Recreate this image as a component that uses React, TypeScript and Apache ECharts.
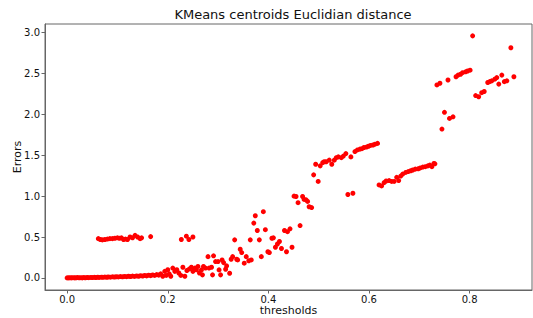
import React, { useEffect, useRef } from "react";
import * as echarts from "echarts";

const titleText = "KMeans centroids Euclidian distance";
const xName = "thresholds";
const yName = "Errors";
const xTicks = [0.0, 0.2, 0.4, 0.6, 0.8];
const yTicks = [0.0, 0.5, 1.0, 1.5, 2.0, 2.5, 3.0];

const baseline: number[][] = [
  [0.0, 0.0], [0.003, 0.0], [0.006, 0.002], [0.009, 0.0], [0.012, 0.003], [0.015, 0.0], [0.018, 0.002],
  [0.021, 0.004], [0.024, 0.001], [0.027, 0.003], [0.03, 0.0], [0.033, 0.004], [0.036, 0.002], [0.04, 0.005],
  [0.043, 0.003], [0.047, 0.006], [0.05, 0.004], [0.054, 0.007], [0.057, 0.005], [0.061, 0.008], [0.064, 0.006],
  [0.068, 0.009], [0.071, 0.007], [0.075, 0.01], [0.079, 0.008], [0.082, 0.012], [0.086, 0.009], [0.09, 0.013],
  [0.094, 0.011], [0.098, 0.014], [0.102, 0.012], [0.106, 0.016], [0.11, 0.013], [0.114, 0.018], [0.118, 0.015],
  [0.122, 0.02], [0.126, 0.016], [0.13, 0.022], [0.134, 0.018], [0.138, 0.024], [0.142, 0.02], [0.146, 0.027],
  [0.15, 0.022], [0.154, 0.03], [0.158, 0.025], [0.162, 0.033], [0.166, 0.028], [0.17, 0.036], [0.174, 0.03],
  [0.178, 0.04], [0.182, 0.034],
];

const halfRow: number[][] = [
  [0.062, 0.48], [0.066, 0.47], [0.07, 0.465], [0.075, 0.47], [0.08, 0.475], [0.085, 0.48], [0.09, 0.48],
  [0.095, 0.485], [0.1, 0.49], [0.104, 0.485], [0.108, 0.49], [0.112, 0.47], [0.116, 0.475], [0.12, 0.47],
  [0.125, 0.5], [0.13, 0.49], [0.135, 0.52], [0.14, 0.5], [0.145, 0.48], [0.148, 0.49], [0.166, 0.505],
  [0.227, 0.47], [0.237, 0.51], [0.242, 0.47], [0.25, 0.5],
];

const rising: number[][] = [
  [0.186, 0.05], [0.19, 0.02], [0.194, 0.08], [0.197, 0.03], [0.2, 0.1], [0.203, 0.05], [0.206, 0.02],
  [0.21, 0.12], [0.214, 0.08], [0.218, 0.1], [0.222, 0.06], [0.226, 0.03], [0.23, 0.13], [0.234, 0.02],
  [0.238, 0.09], [0.243, 0.11], [0.247, 0.13], [0.25, 0.08], [0.254, 0.12], [0.257, 0.1], [0.26, 0.14],
  [0.263, 0.06], [0.267, 0.098], [0.269, 0.037], [0.271, 0.14], [0.275, 0.12], [0.28, 0.26], [0.282, 0.12],
  [0.287, 0.13], [0.289, 0.037], [0.291, 0.27], [0.295, 0.2], [0.3, 0.2], [0.302, 0.098], [0.305, 0.037],
  [0.308, 0.22], [0.311, 0.187], [0.315, 0.106], [0.317, 0.147], [0.323, 0.057], [0.326, 0.228], [0.329, 0.26],
  [0.333, 0.465], [0.337, 0.228], [0.339, 0.22], [0.344, 0.35], [0.347, 0.31], [0.352, 0.18], [0.356, 0.26],
  [0.361, 0.21], [0.364, 0.465], [0.366, 0.22], [0.371, 0.67], [0.374, 0.76], [0.378, 0.58], [0.382, 0.465],
  [0.386, 0.26], [0.39, 0.81], [0.394, 0.59], [0.399, 0.32], [0.402, 0.31], [0.407, 0.485], [0.41, 0.49],
  [0.414, 0.375], [0.418, 0.415], [0.422, 0.445], [0.426, 0.36], [0.432, 0.58], [0.436, 0.32], [0.438, 0.565],
  [0.443, 0.6], [0.447, 0.375], [0.463, 0.64],
];

const jumpGroup: number[][] = [
  [0.451, 1.0], [0.455, 0.995], [0.459, 0.92], [0.468, 0.995], [0.471, 0.96], [0.475, 0.955], [0.478, 0.935],
  [0.481, 0.87], [0.486, 0.86], [0.49, 1.26], [0.494, 1.39], [0.499, 1.18], [0.503, 1.37], [0.508, 1.41],
  [0.511, 1.42], [0.515, 1.42], [0.521, 1.44], [0.526, 1.39], [0.531, 1.44], [0.535, 1.47], [0.539, 1.48],
  [0.545, 1.47], [0.549, 1.49], [0.554, 1.52], [0.558, 1.02], [0.564, 1.48], [0.568, 1.035],
];

const upperBand: number[][] = [
  [0.572, 1.545], [0.577, 1.565], [0.582, 1.575], [0.586, 1.58], [0.59, 1.595], [0.595, 1.6], [0.599, 1.61],
  [0.603, 1.62], [0.608, 1.625], [0.612, 1.635], [0.617, 1.645],
];

const lowerBand: number[][] = [
  [0.62, 1.137], [0.625, 1.125], [0.63, 1.165], [0.634, 1.185], [0.64, 1.19], [0.645, 1.18], [0.65, 1.18],
  [0.655, 1.23], [0.659, 1.19], [0.663, 1.245], [0.667, 1.27], [0.673, 1.29], [0.678, 1.3], [0.683, 1.31],
  [0.687, 1.32], [0.692, 1.33], [0.698, 1.335], [0.702, 1.345], [0.707, 1.355], [0.712, 1.36], [0.717, 1.37],
  [0.721, 1.38], [0.725, 1.36], [0.729, 1.4], [0.731, 1.395],
];

const topCluster: number[][] = [
  [0.735, 2.36], [0.741, 2.38], [0.745, 1.82], [0.75, 2.025], [0.757, 2.42], [0.76, 1.95], [0.767, 1.97],
  [0.773, 2.46], [0.777, 2.48], [0.782, 2.49], [0.786, 2.51], [0.792, 2.52], [0.796, 2.53], [0.801, 2.54],
  [0.806, 2.96], [0.812, 2.23], [0.818, 2.215], [0.824, 2.265], [0.829, 2.28], [0.836, 2.39], [0.84, 2.4],
  [0.844, 2.41], [0.85, 2.43], [0.854, 2.45], [0.858, 2.37], [0.864, 2.48], [0.869, 2.4], [0.874, 2.41],
  [0.882, 2.815], [0.888, 2.46],
];

const FONT = "DejaVu Sans";

export default function App() {
  const ref = useRef<HTMLDivElement>(null);
  useEffect(() => {
    if (!ref.current) return;
    const chart = echarts.init(ref.current, null, { renderer: "svg" });
    const points = [...baseline, ...halfRow, ...rising, ...jumpGroup, ...upperBand, ...lowerBand, ...topCluster];
    chart.setOption({
      animation: false,
      backgroundColor: "#ffffff",
      title: {
        text: titleText,
        left: 288,
        top: 3,
        textAlign: "center",
        textStyle: { fontFamily: FONT, fontSize: 13, fontWeight: "normal", color: "#111" },
      },
      grid: {
        left: 45,
        right: 1,
        top: 24,
        bottom: 28,
        show: true,
        borderColor: "#666",
        borderWidth: 1,
        containLabel: false,
        outerBoundsMode: "none",
      },
      xAxis: {
        type: "value",
        min: -0.044,
        max: 0.924,
        name: xName,
        nameLocation: "middle",
        nameGap: 15,
        nameMoveOverlap: false,
        nameTextStyle: { fontFamily: FONT, fontSize: 11, color: "#111" },
        splitLine: { show: false },
        axisLine: { show: true, onZero: false, lineStyle: { color: "#666" } },
        axisTick: { show: true, length: 3.5, lineStyle: { color: "#666" }, customValues: xTicks },
        axisLabel: {
          fontFamily: FONT,
          fontSize: 10,
          color: "#111",
          margin: 4,
          customValues: xTicks,
          formatter: (v: number) => v.toFixed(1),
        },
      },
      yAxis: {
        type: "value",
        min: -0.148,
        max: 3.105,
        name: yName,
        nameLocation: "middle",
        nameGap: 22,
        nameMoveOverlap: false,
        nameTextStyle: { fontFamily: FONT, fontSize: 11, color: "#111" },
        splitLine: { show: false },
        axisLine: { show: true, onZero: false, lineStyle: { color: "#666" } },
        axisTick: { show: true, length: 3.5, lineStyle: { color: "#666" }, customValues: yTicks },
        axisLabel: {
          fontFamily: FONT,
          fontSize: 10,
          color: "#111",
          margin: 5,
          customValues: yTicks,
          formatter: (v: number) => v.toFixed(1),
        },
      },
      series: [
        {
          type: "scatter",
          data: points,
          symbol: "circle",
          symbolSize: 5,
          itemStyle: { color: "#ff0000", opacity: 1 },
        },
      ],
    });
    return () => chart.dispose();
  }, []);
  return <div ref={ref} style={{ width: 533, height: 318, position: "absolute", left: 0, top: 0 }} />;
}
